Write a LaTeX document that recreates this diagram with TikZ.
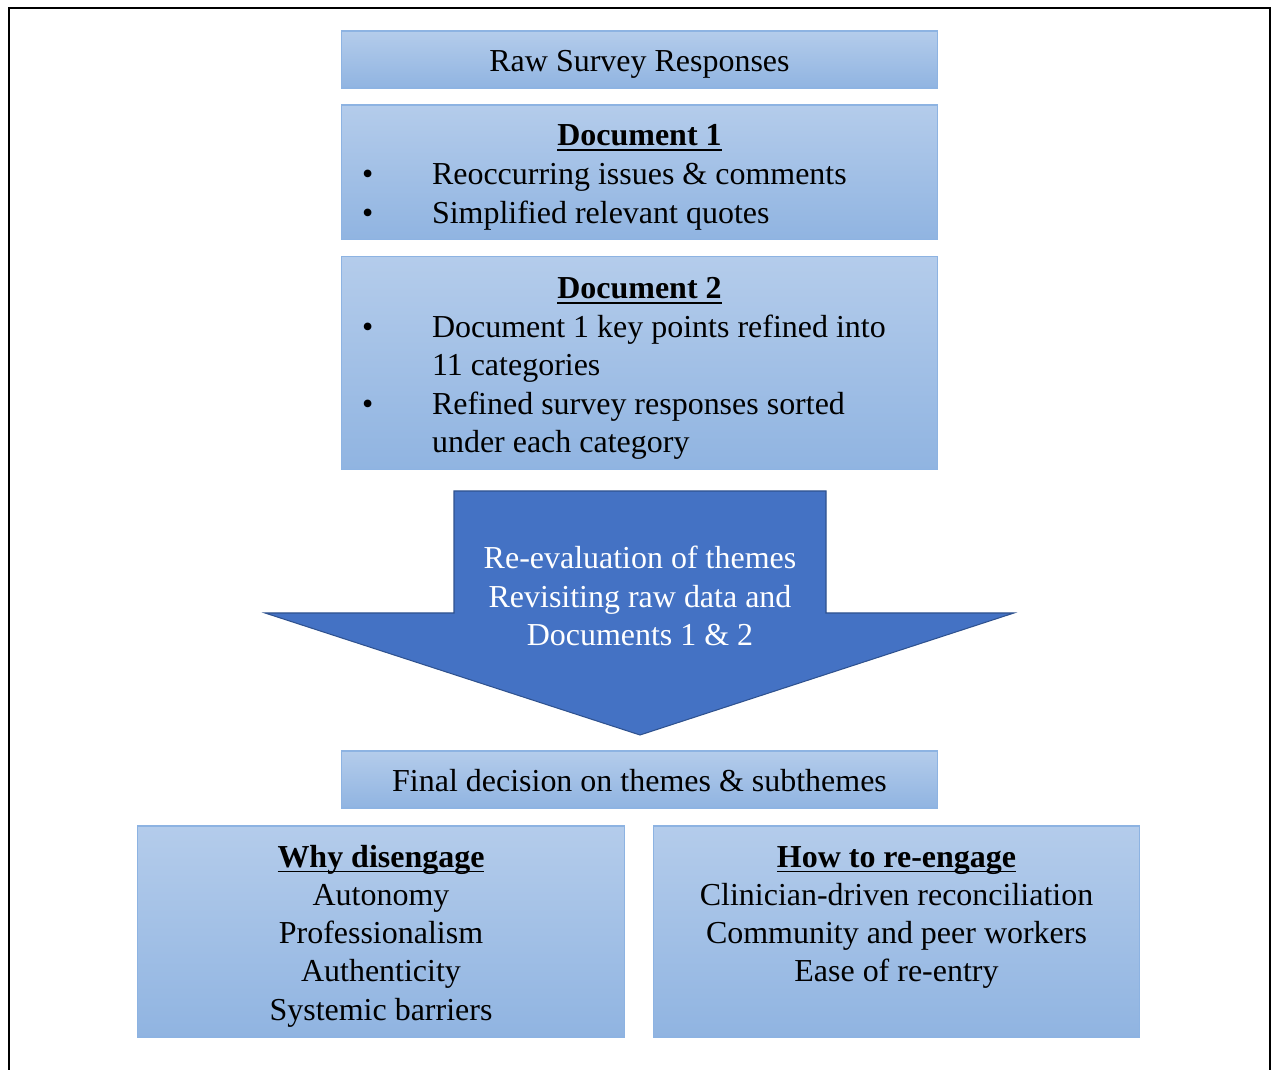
\documentclass[tikz,border=0pt]{standalone}
\usepackage{fontspec}
\setmainfont{Liberation Serif}
\usetikzlibrary{
    positioning
}
\definecolor{boxtop}{HTML}{B4CCEB}
\definecolor{boxbottom}{HTML}{90B4E1}
\definecolor{boxedge}{HTML}{8DB3E2}
\definecolor{arrowfill}{HTML}{4472C4}
\definecolor{arrowedge}{HTML}{2F528F}
\newcommand{\headtext}[1]{%
    \setbox0\hbox{\textbf{#1}}\rlap{\rule[-3pt]{\wd0}{1pt}}\box0}
\tikzset{%
    stage box/.style={%
        rectangle,
        draw=boxedge,
        line width=0.6pt,
        top color=boxtop,
        bottom color=boxbottom,
        inner sep = 0pt,
        outer sep = 0pt,
        minimum width=11.94cm
    },
    body text/.style={%
        font=\fontsize{18.2}{21.8}\selectfont,
        inner sep = 0pt,
        outer sep = 0pt,
        anchor=base
    },
    bullet list/.style={%
        body text,
        anchor=base west
    },
    flow arrow/.style={%
        draw=arrowedge,
        line width=0.6pt,
        fill=arrowfill
    },
}

\begin{document}
\begin{tikzpicture}[x=0.02cm, y=-0.02cm]
    \useasboundingbox (0,0) rectangle (1272,1070);
    \draw[line width=0.055cm] (9,1070) -- (9,8) -- (1270,8) -- (1270,1070);

    \node[stage box, minimum height=1.14cm] (raw) at (639.5,59.5) {};
    \node[stage box, minimum height=2.7cm, below=0.34cm of raw] (doc1) {};
    \node[stage box, minimum height=4.26cm, below=0.34cm of doc1] (doc2) {};

    \node[body text] (rawtext) at ([yshift=-0.25cm]raw.center) {Raw Survey Responses};

    \node[body text] (doc1head) at ([yshift=-0.82cm]doc1.north) {\headtext{Document 1}};
    \node[bullet list] (doc1list) at ([xshift=0.42cm, yshift=-1.6cm]doc1.north west) {%
        \begin{tabular}[t]{@{}p{1.4cm}@{}l@{}}
            \textbullet & Reoccurring issues \& comments\\
            \textbullet & Simplified relevant quotes
        \end{tabular}};

    \node[body text] (doc2head) at ([yshift=-0.84cm]doc2.north) {\headtext{Document 2}};
    \node[bullet list] (doc2list) at ([xshift=0.42cm, yshift=-1.61cm]doc2.north west) {%
        \begin{tabular}[t]{@{}p{1.4cm}@{}l@{}}
            \textbullet & Document 1 key points refined into\\
                        & 11 categories\\
            \textbullet & Refined survey responses sorted\\
                        & under each category
        \end{tabular}};

    \draw[flow arrow] (454,491) -- (826,491) -- (826,613) -- (1014,613)
        -- (640,735) -- (265,613) -- (454,613) -- cycle;
    \node[body text, text=white] (review) at (640,569) {%
        \begin{tabular}[t]{@{}c@{}}
            Re-evaluation of themes\\
            Revisiting raw data and\\
            Documents 1 \& 2
        \end{tabular}};

    \node[stage box, minimum height=1.14cm] (final) at (639.5,779.5) {};
    \node[body text] (finaltext) at ([yshift=-0.25cm]final.center) {Final decision on themes \& subthemes};

    \node[stage box, minimum width=9.76cm, minimum height=4.22cm] (why) at (381,931.5) {};
    \node[stage box, minimum width=9.74cm, minimum height=4.22cm] (how) at (896.5,931.5) {};

    \node[body text] (whytext) at ([yshift=-0.82cm]why.north) {%
        \begin{tabular}[t]{@{}c@{}}
            \headtext{Why disengage}\\
            Autonomy\\
            Professionalism\\
            Authenticity\\
            Systemic barriers
        \end{tabular}};
    \node[body text] (howtext) at ([yshift=-0.82cm]how.north) {%
        \begin{tabular}[t]{@{}c@{}}
            \headtext{How to re-engage}\\
            Clinician-driven reconciliation\\
            Community and peer workers\\
            Ease of re-entry
        \end{tabular}};
\end{tikzpicture}
\end{document}
